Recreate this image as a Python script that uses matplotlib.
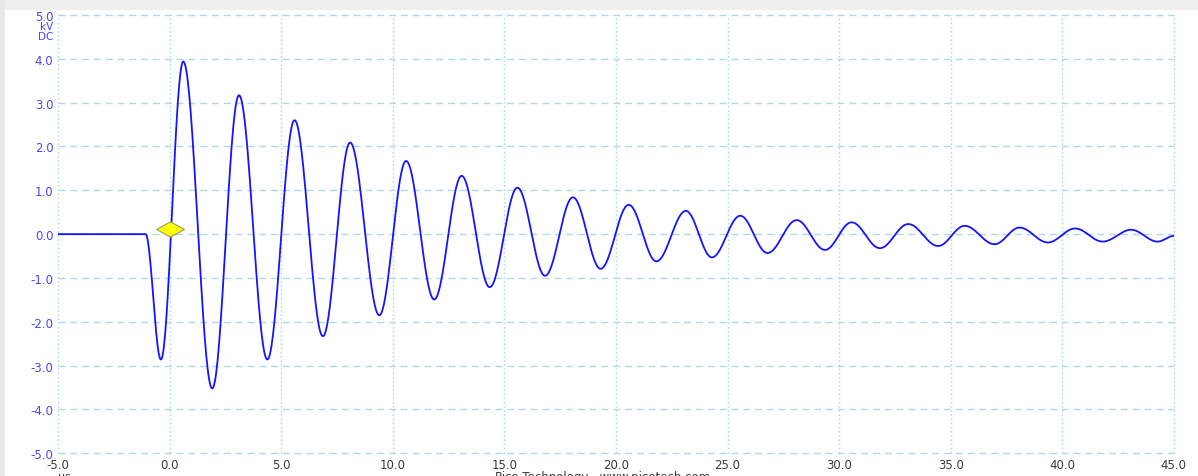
import numpy as np
import matplotlib.pyplot as plt
from matplotlib.path import Path
from matplotlib.patches import Rectangle

# Turning points of the trace (time in us, voltage in kV)
ext_t = [-5.0, -1.09, -0.40, 0.60, 1.90, 3.10, 4.37, 5.59, 6.86, 8.08,
         9.39, 10.59, 11.85, 13.08, 14.34, 15.58, 16.82, 18.07, 19.31, 20.57,
         21.81, 23.13, 24.30, 25.57, 26.79, 28.10, 29.37, 30.56, 31.83, 33.10,
         34.44, 35.63, 36.97, 38.09, 39.36, 40.58, 41.82, 43.09, 44.28, 45.0]
ext_v = [0.0, 0.0, -2.86, 3.94, -3.52, 3.17, -2.86, 2.60, -2.33, 2.09,
         -1.85, 1.67, -1.49, 1.33, -1.21, 1.06, -0.95, 0.84, -0.79, 0.67,
         -0.62, 0.53, -0.53, 0.42, -0.43, 0.32, -0.36, 0.27, -0.32, 0.23,
         -0.27, 0.19, -0.23, 0.15, -0.19, 0.13, -0.17, 0.10, -0.17, -0.04]

# trigger marker
trig_t = 0.0
trig_v = 0.11

x_ticks = np.arange(-5, 46, 5)
y_ticks = np.arange(-5, 6, 1)


def main():
    # join turning points with half-cosine arcs, like the ringing trace
    t_all, v_all = [], []
    for i in range(len(ext_t) - 1):
        s = np.linspace(0, 1, 40)
        w = (1 - np.cos(np.pi * s)) / 2
        t_all.append(ext_t[i] + (ext_t[i + 1] - ext_t[i]) * s)
        v_all.append(ext_v[i] + (ext_v[i + 1] - ext_v[i]) * w)
    t_all = np.concatenate(t_all)
    v_all = np.concatenate(v_all)

    W, H = 1198, 477
    fig = plt.figure(figsize=(W / 100, H / 100), dpi=100)
    fig.patch.set_facecolor('white')

    # window chrome: grey strips at the top and left
    fig.patches.append(Rectangle((0, 1 - 11 / H), 1, 11 / H, transform=fig.transFigure,
                                 facecolor='#eeeeee', edgecolor='none', zorder=0))
    fig.patches.append(Rectangle((0, 0), 5 / W, 1, transform=fig.transFigure,
                                 facecolor='#e8e8e8', edgecolor='none', zorder=0))

    left, right = 58.3, 1173.7
    top, bottom = 16.0, 454.3
    ax = fig.add_axes([left / W, 1 - bottom / H, (right - left) / W, (bottom - top) / H])
    ax.set_xlim(-5, 45)
    ax.set_ylim(-5, 5)
    for sp in ax.spines.values():
        sp.set_visible(False)

    grid_col = '#addaea'
    for y in y_ticks:
        ax.axhline(y, color=grid_col, lw=1.0, ls=(0, (5, 3.5)), clip_on=False, zorder=1)
    for x in x_ticks:
        ax.axvline(x, color=grid_col, lw=1.0, ls=(0, (1.2, 1.8)), clip_on=False, zorder=1)

    ax.plot(t_all, v_all, color='#1414ff', lw=1.3, zorder=3)

    diamond = Path([(-1, 0), (0, 0.55), (1, 0), (0, -0.55), (-1, 0)],
                   [Path.MOVETO, Path.LINETO, Path.LINETO, Path.LINETO, Path.CLOSEPOLY])
    ax.plot([trig_t], [trig_v], marker=diamond, ms=20, mfc='#ffff00', mec='#9a9a60',
            mew=0.8, ls='none', zorder=4)

    ax.set_xticks(x_ticks)
    ax.set_xticklabels([f'{x:.1f}' for x in x_ticks])
    ax.set_yticks(y_ticks)
    ax.set_yticklabels([f'{y:.1f}' for y in y_ticks])
    ax.tick_params(axis='x', length=0, pad=3.5, labelsize=8.5, labelcolor='#3a3a3a')
    ax.tick_params(axis='y', length=0, pad=3.5, labelsize=8.5, labelcolor='#4848ee')

    # unit labels under the top y tick
    fig.text(53 / W, 1 - 27.5 / H, 'kV', ha='right', va='center', fontsize=7.5, color='#4848ee')
    fig.text(53 / W, 1 - 37.5 / H, 'DC', ha='right', va='center', fontsize=7.5, color='#4848ee')

    # bottom captions, partly cut by the window edge as on the screen
    fig.text(58 / W, 1 - 472 / H, 'µs', ha='left', va='top', fontsize=8, color='#3a3a3a')
    fig.text(603 / W, 1 - 471 / H, 'Pico Technology   www.picotech.com', ha='center',
             va='top', fontsize=8.5, color='#3a3a3a')

    fig.savefig('out.png', dpi=100)


if __name__ == "__main__":
    main()
